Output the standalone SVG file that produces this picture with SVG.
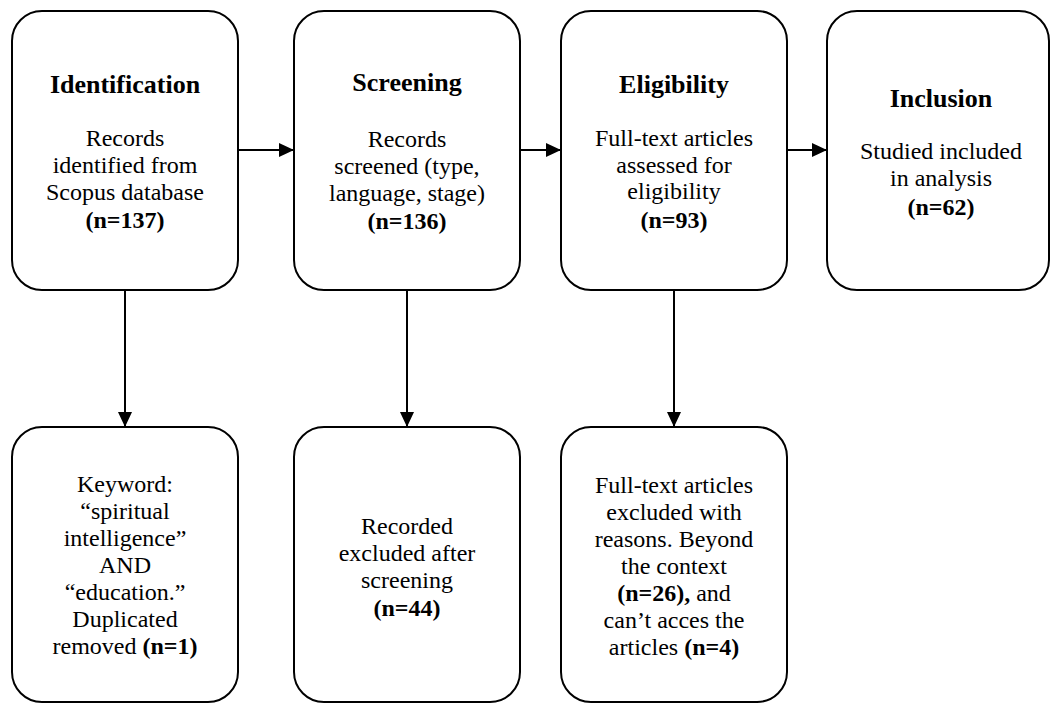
<svg xmlns="http://www.w3.org/2000/svg" width="1051" height="704" viewBox="0 0 1051 704">
  <style>
    .box { fill: #ffffff; stroke: #000000; stroke-width: 2; }
    .edge { fill: none; stroke: #000000; stroke-width: 2; }
    text { font-family: "Liberation Serif", "Times New Roman", serif; fill: #000000; text-anchor: middle; }
    .title { font-size: 26px; font-weight: bold; }
    .body { font-size: 24px; }
    .b { font-weight: bold; }
  </style>
  <defs>
    <marker id="arrow" markerWidth="15" markerHeight="14" refX="15" refY="7" orient="auto" markerUnits="userSpaceOnUse">
      <path d="M0,0 L15,7 L0,14 Z" fill="#000000"/>
    </marker>
  </defs>
  <rect width="1051" height="704" fill="#ffffff"/>

  <!-- connectors -->
  <g id="connectors">
    <line class="edge" x1="238" y1="150" x2="294" y2="150" marker-end="url(#arrow)"/>
    <line class="edge" x1="520" y1="150" x2="561" y2="150" marker-end="url(#arrow)"/>
    <line class="edge" x1="787" y1="150" x2="827" y2="150" marker-end="url(#arrow)"/>
    <line class="edge" x1="125" y1="290" x2="125" y2="427" marker-end="url(#arrow)"/>
    <line class="edge" x1="407" y1="290" x2="407" y2="427" marker-end="url(#arrow)"/>
    <line class="edge" x1="674" y1="290" x2="674" y2="427" marker-end="url(#arrow)"/>
  </g>

  <!-- top row -->
  <g id="identification">
    <rect class="box" x="12" y="11" width="226" height="279" rx="30" ry="30"/>
    <text class="title" x="125" y="93">Identification</text>
    <text class="body" x="125" y="146">Records</text>
    <text class="body" x="125" y="173">identified from</text>
    <text class="body" x="125" y="200">Scopus database</text>
    <text class="body b" x="125" y="228">(n=137)</text>
  </g>

  <g id="screening">
    <rect class="box" x="294" y="11" width="226" height="279" rx="30" ry="30"/>
    <text class="title" x="407" y="91">Screening</text>
    <text class="body" x="407" y="147">Records</text>
    <text class="body" x="407" y="174">screened (type,</text>
    <text class="body" x="407" y="201">language, stage)</text>
    <text class="body b" x="407" y="229">(n=136)</text>
  </g>

  <g id="eligibility">
    <rect class="box" x="561" y="11" width="226" height="279" rx="30" ry="30"/>
    <text class="title" x="674" y="93">Eligibility</text>
    <text class="body" x="674" y="146">Full-text articles</text>
    <text class="body" x="674" y="173">assessed for</text>
    <text class="body" x="674" y="199">eligibility</text>
    <text class="body b" x="674" y="228">(n=93)</text>
  </g>

  <g id="inclusion">
    <rect class="box" x="827" y="11" width="222" height="279" rx="30" ry="30"/>
    <text class="title" x="941" y="107">Inclusion</text>
    <text class="body" x="941" y="159">Studied included</text>
    <text class="body" x="941" y="186">in analysis</text>
    <text class="body b" x="941" y="215">(n=62)</text>
  </g>

  <!-- bottom row -->
  <g id="duplicates">
    <rect class="box" x="12" y="427" width="226" height="275" rx="30" ry="30"/>
    <text class="body" x="125" y="492">Keyword:</text>
    <text class="body" x="125" y="519">“spiritual</text>
    <text class="body" x="125" y="546">intelligence”</text>
    <text class="body" x="125" y="573">AND</text>
    <text class="body" x="125" y="600">“education.”</text>
    <text class="body" x="125" y="627">Duplicated</text>
    <text class="body" x="125" y="654">removed <tspan class="b">(n=1)</tspan></text>
  </g>

  <g id="screened-out">
    <rect class="box" x="294" y="427" width="226" height="275" rx="30" ry="30"/>
    <text class="body" x="407" y="534">Recorded</text>
    <text class="body" x="407" y="561">excluded after</text>
    <text class="body" x="407" y="588">screening</text>
    <text class="body b" x="407" y="616">(n=44)</text>
  </g>

  <g id="excluded">
    <rect class="box" x="561" y="427" width="226" height="275" rx="30" ry="30"/>
    <text class="body" x="674" y="493">Full-text articles</text>
    <text class="body" x="674" y="520">excluded with</text>
    <text class="body" x="674" y="547">reasons. Beyond</text>
    <text class="body" x="674" y="574">the context</text>
    <text class="body" x="674" y="601"><tspan class="b">(n=26),</tspan> and</text>
    <text class="body" x="674" y="628">can’t acces the</text>
    <text class="body" x="674" y="655">articles <tspan class="b">(n=4)</tspan></text>
  </g>
</svg>
